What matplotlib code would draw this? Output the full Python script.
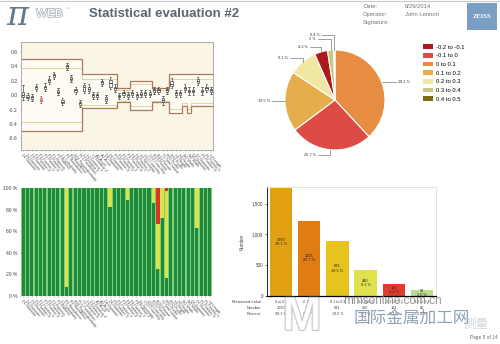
import numpy as np
import matplotlib
matplotlib.use("Agg")
import matplotlib.pyplot as plt
import matplotlib.patheffects as pe
from matplotlib.patches import Rectangle, Patch

plt.rcParams['font.family'] = ['Liberation Sans', 'DejaVu Sans', 'Noto Sans CJK SC']

W, H = 500, 344

# ---------------- data ----------------
characteristics = [
    "D1 Diameter", "D2 Diameter", "D3 Diameter", "P1 Position X", "P1 Position Y",
    "P2 Position X", "P2 Position Y", "F1 Flatness", "F2 Flatness", "C1 Cylindricity",
    "R1 Roundness", "R2 Roundness", "PP1 Perpendicularity", "PL1 Parallelism",
    "L1 Distance X", "L2 Distance Y", "L3 Distance Z", "A1 Angle", "A2 Angle",
    "D4 Diameter", "D5 Diameter", "P3 Position X", "P3 Position Y", "P3 Position Z",
    "P4 Position X", "P4 Position Y", "P4 Position Z", "S1 Symmetry", "CO1 Coaxiality",
    "CO2 Coaxiality", "RO1 Runout", "RO2 Runout", "T1 Total runout", "PR1 Profile",
    "PR2 Profile", "H1 Height", "H2 Height", "W1 Width", "W2 Width", "D6 Diameter",
    "D7 Diameter", "P5 Position X", "P5 Position Y", "L4 Length",
]

# deviation statistics per characteristic (mm)
dev_lo = [-0.06, -0.07, -0.08, 0.06, -0.11, 0.06, 0.16, 0.23, 0.00, -0.14, 0.35, 0.18, 0.02, -0.16,
          0.03, 0.03, -0.05, -0.05, 0.13, -0.11, 0.09, 0.05, -0.05, -0.02, -0.05, -0.02, -0.05, -0.03,
          -0.02, -0.03, 0.02, 0.02, -0.13, 0.02, 0.10, -0.02, -0.02, 0.05, 0.01, 0.01, 0.14, 0.01, 0.05, 0.02]
dev_q1 = [-0.03, -0.04, -0.05, 0.09, -0.08, 0.09, 0.19, 0.26, 0.03, -0.11, 0.38, 0.21, 0.05, -0.13,
          0.06, 0.06, -0.02, -0.02, 0.16, -0.08, 0.12, 0.08, -0.03, 0.01, -0.02, 0.01, -0.02, 0.00,
          0.01, 0.00, 0.05, 0.05, -0.10, 0.05, 0.13, 0.01, 0.01, 0.08, 0.04, 0.04, 0.17, 0.04, 0.08, 0.05]
dev_med = [0.00, -0.02, -0.03, 0.11, -0.06, 0.11, 0.21, 0.28, 0.05, -0.09, 0.40, 0.23, 0.07, -0.11,
           0.11, 0.09, 0.00, 0.00, 0.18, -0.05, 0.17, 0.10, -0.01, 0.03, 0.00, 0.03, 0.00, 0.02,
           0.03, 0.02, 0.07, 0.07, -0.07, 0.07, 0.16, 0.03, 0.03, 0.10, 0.06, 0.06, 0.20, 0.06, 0.10, 0.07]
dev_q3 = [0.05, 0.00, -0.01, 0.13, -0.04, 0.13, 0.23, 0.30, 0.07, -0.07, 0.42, 0.25, 0.09, -0.09,
          0.14, 0.12, 0.02, 0.02, 0.20, -0.03, 0.21, 0.12, 0.01, 0.05, 0.02, 0.05, 0.02, 0.04,
          0.05, 0.04, 0.09, 0.09, -0.04, 0.09, 0.20, 0.05, 0.05, 0.12, 0.08, 0.08, 0.23, 0.08, 0.12, 0.09]
dev_hi = [0.14, 0.03, 0.02, 0.16, -0.01, 0.17, 0.27, 0.33, 0.10, -0.04, 0.45, 0.28, 0.12, -0.06,
          0.17, 0.15, 0.05, 0.05, 0.23, 0.00, 0.25, 0.15, 0.03, 0.08, 0.05, 0.08, 0.05, 0.07,
          0.08, 0.07, 0.12, 0.12, -0.01, 0.12, 0.24, 0.08, 0.08, 0.15, 0.11, 0.11, 0.26, 0.11, 0.15, 0.12]

# tolerance and warning limits per characteristic
upper_tol = [0.5] * 14 + [0.3] * 8 + [0.1] * 3 + [0.2] * 5 + [0.1] * 4 + [0.3] * 10
lower_tol = [-0.5] * 14 + [-0.18] * 8 + [-0.1] * 3 + [-0.2] * 5 + [-0.1] * 4 + \
            [-0.25] * 3 + [-0.15] * 1 + [-0.25] * 1 + [-0.15] * 5
upper_warn = [0.375] * 14 + [0.225] * 8 + [0.075] * 3 + [0.15] * 5 + [0.075] * 4 + [0.225] * 10
lower_warn = [-0.375] * 14 + [-0.135] * 8 + [-0.075] * 3 + [-0.15] * 5 + [-0.075] * 4 + \
             [-0.19] * 3 + [-0.11] * 1 + [-0.19] * 1 + [-0.11] * 5

# share of parts inside tolerance / in warning zone / out of tolerance (%)
pct_ok = [100, 100, 100, 100, 100, 100, 100, 100, 100, 100, 8, 100, 100, 100, 100, 100, 100, 100, 100, 100,
          82, 100, 100, 100, 89, 100, 100, 100, 100, 100, 86, 25, 72, 17, 100, 100, 100, 100, 100, 100,
          63, 100, 100, 100]
pct_warn = [0, 0, 0, 0, 0, 0, 0, 0, 0, 0, 92, 0, 0, 0, 0, 0, 0, 0, 0, 0,
            18, 0, 0, 0, 11, 0, 0, 0, 0, 0, 14, 42, 28, 80, 0, 0, 0, 0, 0, 0,
            37, 0, 0, 0]
pct_out = [0, 0, 0, 0, 0, 0, 0, 0, 0, 0, 0, 0, 0, 0, 0, 0, 0, 0, 0, 0,
           0, 0, 0, 0, 0, 0, 0, 0, 0, 0, 0, 33, 0, 3, 0, 0, 0, 0, 0, 0,
           0, 0, 0, 0]

# distribution of measured values by class
classes = ["-0.2 to -0.1", "-0.1 to 0", "0 to 0.1", "0.1 to 0.2", "0.2 to 0.3", "0.3 to 0.4", "0.4 to 0.5"]
counts = [193, 1225, 1750, 893, 420, 92, 18]
pie_colors = ["#ad1a1e", "#de4a44", "#e68d43", "#e6ad4c", "#efe7a2", "#cbc77c", "#7f6c16"]
bar_colors = ["#e23c2e", "#df7c14", "#e2a112", "#e7c41d", "#dfe24c", "#b9dc8f", "#8fbf6a"]

# ---------------- figure ----------------
fig = plt.figure(figsize=(W / 100, H / 100), dpi=100)
fig.patch.set_facecolor("white")


def px_axes(x0, y0, x1, y1):
    return fig.add_axes([x0 / W, 1 - y1 / H, (x1 - x0) / W, (y1 - y0) / H])


def ftext(x, y, s, **kw):
    return fig.text(x / W, 1 - y / H, s, **kw)


# header
fig.add_artist(plt.Line2D([0, 1], [1 - 1 / H, 1 - 1 / H], color="#c8c8c8", lw=0.8))
ftext(6, 16, "π", fontsize=24, family="DejaVu Serif", style="italic", color="#627a8e",
      va="center", ha="left")
ftext(36, 14, "WEB", fontsize=8.5, color="white", va="center", ha="left",
      path_effects=[pe.withStroke(linewidth=0.9, foreground="#9aa6b2")])
ftext(66, 9, "™", fontsize=3, color="#9aa4ae", va="center", ha="left")
ftext(89, 14, "Statistical evaluation #2", fontsize=9.5, fontweight="bold", color="#5b6670",
      va="center", ha="left")
for yy, k, v in [(6.5, "Date:", "6/29/2014"), (14.5, "Operator:", "John Lennon"), (22.5, "Signature:", "")]:
    ftext(363, yy, k, fontsize=4.2, color="#777777", va="center", ha="left")
    ftext(405, yy, v, fontsize=4.2, color="#777777", va="center", ha="left")
fig.add_artist(Rectangle((467 / W, 1 - 30 / H), 30 / W, 27 / H, transform=fig.transFigure,
                         facecolor="#7a9fc4", edgecolor="none"))
ftext(482, 16.5, "ZEISS", fontsize=4.8, fontweight="bold", color="white", ha="center", va="center",
      family="Liberation Serif")

n = len(characteristics)
pos = np.arange(1, n + 1)
edges = np.arange(0.5, n + 1)

# ---- box plot of deviations ----
ax1 = px_axes(21, 42, 213, 150)
ax1.set_facecolor("#fbf5e6")
ax1.stairs(upper_tol, edges, baseline=lower_tol, fill=True, color="#fefbf4", zorder=0.5)
ax1.stairs(upper_warn, edges, baseline=None, color="#e3d896", lw=0.8, zorder=1)
ax1.stairs(lower_warn, edges, baseline=None, color="#e3d896", lw=0.8, zorder=1)
ax1.stairs(upper_tol, edges, baseline=None, color="#a87a62", lw=0.9, zorder=1.2)
ax1.stairs(lower_tol, edges, baseline=None, color="#a87a62", lw=0.9, zorder=1.2)
stats = [dict(whislo=a, q1=b, med=c, q3=d, whishi=e, label=name)
         for a, b, c, d, e, name in zip(dev_lo, dev_q1, dev_med, dev_q3, dev_hi, characteristics)]
bp = ax1.bxp(stats, positions=pos, widths=0.5, showfliers=False, patch_artist=True,
             boxprops=dict(facecolor="white", edgecolor="#4d4d4d", linewidth=0.5),
             whiskerprops=dict(color="#4d4d4d", linewidth=0.5),
             capprops=dict(color="#4d4d4d", linewidth=0.5),
             medianprops=dict(color="#333333", linewidth=0.6), capwidths=0.35)
for i, c in [(4, "#c0504a")]:
    bp["boxes"][i].set_edgecolor(c)
    for art in bp["whiskers"][2 * i:2 * i + 2] + bp["caps"][2 * i:2 * i + 2]:
        art.set_color(c)
    bp["medians"][i].set_color(c)
ax1.set_xlim(0.5, n + 0.5)
ax1.set_ylim(-0.76, 0.74)
ax1.set_yticks([-0.6, -0.4, -0.2, 0.0, 0.2, 0.4, 0.6])
ax1.set_yticklabels(["-0.6", "-0.4", "-0.2", "0.0", "0.2", "0.4", "0.6"], fontsize=3.6, color="#444444")
ax1.set_xticks(pos)
ax1.set_xticklabels(characteristics, rotation=-50, ha="left", va="top", rotation_mode="anchor",
                    fontsize=2.6, color="#444444")
ax1.tick_params(length=1, width=0.4, pad=1.5, color="#888888")
for s in ax1.spines.values():
    s.set_color("#a0a0a0")
    s.set_linewidth(0.6)

# ---- stacked percentage bars ----
ax2 = px_axes(21, 188, 212, 296)
ax2.set_facecolor("#7fcd78")
bot_warn = np.array(pct_ok)
bot_out = bot_warn + np.array(pct_warn)
ax2.bar(pos, pct_ok, width=0.72, color="#1d8b3b", linewidth=0)
ax2.bar(pos, pct_warn, bottom=bot_warn, width=0.82, color="#d8e34e", linewidth=0)
ax2.bar(pos, pct_out, bottom=bot_out, width=0.82, color="#d9381f", linewidth=0)
ax2.set_xlim(0.5, n + 0.5)
ax2.set_ylim(0, 100)
ax2.set_yticks([0, 20, 40, 60, 80, 100])
ax2.set_yticklabels(["0 %", "20 %", "40 %", "60 %", "80 %", "100 %"], fontsize=3.6, color="#444444")
ax2.set_xticks(pos)
ax2.set_xticklabels(characteristics, rotation=-50, ha="left", va="top", rotation_mode="anchor",
                    fontsize=2.6, color="#444444")
ax2.tick_params(length=1, width=0.4, pad=1.5, color="#888888")
for s in ax2.spines.values():
    s.set_visible(False)

# ---- pie of value classes ----
order = list(np.argsort(counts)[::-1])
total = float(np.sum(counts))
ax3 = px_axes(285, 50, 385, 150)
wedges, _ = ax3.pie([counts[i] for i in order], colors=[pie_colors[i] for i in order],
                    startangle=90, counterclock=False, radius=1,
                    wedgeprops=dict(edgecolor="white", linewidth=0.8))
ax3.set_xlim(-1, 1)
ax3.set_ylim(-1, 1)
ax3.set_aspect("equal")
# leader-line label anchors (label end x, label y) in pie units, by descending share
label_anchor = [(1.22, None), (-0.34, -1.10), (-1.26, None), (-0.90, 0.84),
                (-0.50, 1.07), (-0.34, 1.22), (-0.26, 1.30)]
for w, idx, (lx, ly) in zip(wedges, order, label_anchor):
    mid = np.deg2rad((w.theta1 + w.theta2) / 2)
    ex, ey = np.cos(mid), np.sin(mid)
    if ly is None:
        ly = ey
    ax3.plot([lx, ex, ex], [ly, ly, ey], color="#555555", lw=0.4, clip_on=False)
    pct = 100 * counts[idx] / total
    txt = f"{pct:.1f}".rstrip("0").rstrip(".") + " %"
    if lx > 0:
        ax3.text(lx + 0.04, ly, txt, fontsize=2.8, ha="left", va="center", color="#333333")
    else:
        ax3.text(lx - 0.04, ly, txt, fontsize=2.8, ha="right", va="center", color="#333333")
handles = [Patch(facecolor=pie_colors[i], edgecolor="none") for i in range(len(classes))]
fig.legend(handles, classes, loc="upper left", bbox_to_anchor=(421 / W, 1 - 42 / H), frameon=False,
           fontsize=4.2, handlelength=1.6, handleheight=0.9, labelspacing=0.55, handletextpad=0.6,
           borderaxespad=0)

# ---- bar chart of class counts ----
bar_idx = order[:6]
ax4 = px_axes(267, 187, 436, 296)
xb = np.arange(len(bar_idx))
vals = [counts[i] for i in bar_idx]
bars = ax4.bar(xb, vals, width=0.79, color=[bar_colors[i] for i in bar_idx], linewidth=0)
ax4.set_xlim(-0.5, len(bar_idx) - 0.5)
ax4.set_ylim(0, 1770)
ax4.set_yticks([0, 500, 1000, 1500])
ax4.set_yticklabels(["0", "500", "1,000", "1,500"], fontsize=3.3, color="#444444")
ax4.set_xticks([])
ax4.tick_params(length=1.2, width=0.4, pad=1.5)
ax4.set_ylabel("Number", fontsize=3.3, color="#444444", labelpad=5)
for s in ["top", "right"]:
    ax4.spines[s].set_color("#d8d8d8")
    ax4.spines[s].set_linewidth(0.5)
ax4.spines["left"].set_linewidth(0.6)
ax4.spines["bottom"].set_linewidth(0.9)
for x, v, i in zip(xb, vals, bar_idx):
    pct = 100 * v / total
    ax4.text(x, v / 2, f"{v}\n{pct:.1f} %", ha="center", va="center", fontsize=2.8,
             color="#222222", linespacing=1.1)
trans = ax4.get_xaxis_transform()
rows_y = [-0.052, -0.108, -0.168]
for ry, name in zip(rows_y, ["Measured value", "Number", "Percent"]):
    ax4.text(-0.035, ry, name, transform=ax4.transAxes, ha="right", va="center", fontsize=3.0,
             color="#444444")
for x, i in zip(xb, bar_idx):
    pct = 100 * counts[i] / total
    for ry, s in zip(rows_y, [classes[i], f"{counts[i]}", f"{pct:.1f} %"]):
        ax4.text(x, ry, s, transform=trans, ha="center", va="center", fontsize=2.7, color="#444444")

# site watermark
ftext(302, 318, "M", fontsize=34, color="white", ha="center", va="center", fontweight="bold",
      alpha=0.75, path_effects=[pe.withStroke(linewidth=1.2, foreground="#a4aab2")])
ftext(392, 301, "mmsonline.com.cn", fontsize=8.5, color="#8a8a8a", ha="center", va="center", alpha=0.9)
ftext(412, 318, "国际金属加工网", fontsize=12, color="#7f92a8", ha="center", va="center",
      family=["Noto Sans CJK SC"], alpha=0.85)
ftext(476, 324, "测量", fontsize=9, color="#c8ccd2", ha="center", va="center",
      family=["Noto Sans CJK SC"], alpha=0.8)

ftext(497, 338, "Page 5 of 14", fontsize=3.4, color="#666666", ha="right", va="center")

fig.savefig("out.png", dpi=100, facecolor="white")
